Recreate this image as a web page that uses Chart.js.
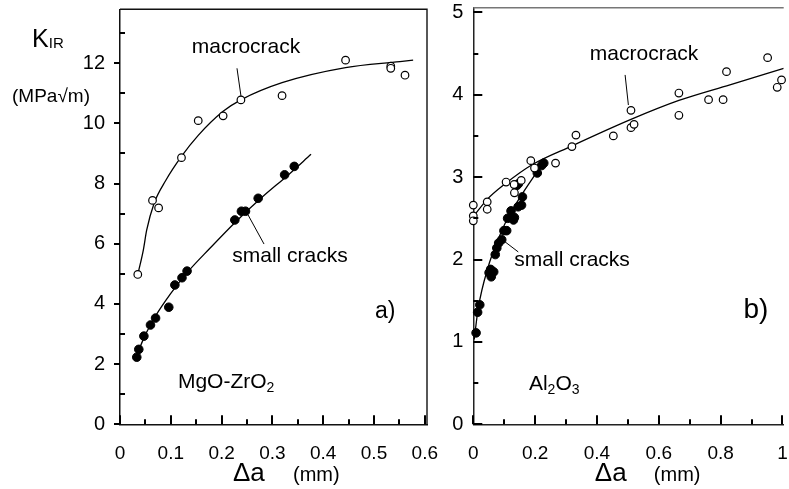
<!DOCTYPE html>
<html>
<head>
<meta charset="utf-8">
<script src="https://cdn.jsdelivr.net/npm/chart.js@4.4.1/dist/chart.umd.min.js"></script>
<style>
html,body{margin:0;padding:0;background:#fff;overflow:hidden}
body{width:789px;height:489px;position:relative}
.panel{position:absolute;top:0}
.panel canvas{display:block}
#pa{left:0}
#pb{left:400px}
</style>
</head>
<body>
<div class="panel" id="pa"><canvas id="chartA" width="440" height="489"></canvas></div>
<div class="panel" id="pb"><canvas id="chartB" width="389" height="489"></canvas></div>
<script>

const FONT="'Liberation Sans', Arial, Helvetica, sans-serif"

// a) MgO-ZrO2
const macroAX=[0.035,0.064,0.076,0.121,0.154,0.203,0.238,0.319,0.444,0.533,0.533,0.561]
const macroAY=[4.98,7.44,7.19,8.86,10.09,10.25,10.78,10.92,12.10,11.90,11.83,11.60]
const smallAX=[0.033,0.037,0.047,0.060,0.070,0.096,0.108,0.122,0.132,0.226,0.239,0.247,0.272,0.324,0.343]
const smallAY=[2.23,2.49,2.93,3.30,3.53,3.89,4.63,4.87,5.09,6.79,7.08,7.08,7.51,8.29,8.57]
const macroFitAX=[0.036,0.046,0.0525,0.067,0.09,0.121,0.154,0.203,0.238,0.319,0.444,0.551,0.577]
const macroFitAY=[5.05,5.8,6.45,7.34,8.1,8.9,9.6,10.4,10.78,11.35,11.85,12.05,12.1]
const smallFitAX=[0.033,0.05,0.07,0.1,0.13,0.177,0.226,0.28,0.33,0.376]
const smallFitAY=[2.3,2.98,3.6,4.35,5.0,5.85,6.7,7.55,8.27,8.97]

// b) Al2O3
const macroBX=[0,0,0,0.045,0.045,0.106,0.132,0.133,0.155,0.186,0.198,0.266,0.319,0.332,0.453,0.510,0.510,0.520,0.665,0.665,0.761,0.808,0.819,0.952,0.983,0.997]
const macroBY=[2.66,2.53,2.47,2.70,2.61,2.94,2.91,2.81,2.96,3.20,3.11,3.17,3.37,3.51,3.50,3.81,3.60,3.64,4.02,3.75,3.94,3.94,4.28,4.45,4.09,4.18]
const smallBX=[0.009,0.014,0.021,0.051,0.056,0.058,0.066,0.071,0.076,0.082,0.092,0.099,0.108,0.111,0.122,0.130,0.133,0.141,0.146,0.145,0.156,0.159,0.207,0.221,0.228]
const smallBY=[1.11,1.36,1.45,1.84,1.88,1.79,1.85,2.06,2.14,2.20,2.24,2.35,2.35,2.50,2.59,2.48,2.51,2.90,2.92,2.64,2.66,2.76,3.05,3.14,3.17]
const macroFitBX=[0,0.045,0.1,0.19,0.32,0.51,0.665,0.83,1.004]
const macroFitBY=[2.52,2.73,2.91,3.15,3.38,3.70,3.93,4.12,4.32]
const smallFitBX=[0.003,0.016,0.048,0.08,0.111,0.159,0.207,0.228]
const smallFitBY=[1.03,1.41,1.91,2.24,2.5,2.8,3.07,3.19]

function pts(xs,ys){
    return xs.map((x,i)=>({x:x,y:ys[i]}))
}

function isMult(v,step){
    const r=v/step
    return Math.abs(r-Math.round(r))<1e-6
}

// inward tick marks, minor ticks and frame
const tickMarks={
    id:"tickMarks",
    afterDraw(chart){
        const o=chart.config._config.frameOpts
        const ctx=chart.ctx
        const a=chart.chartArea
        const sx=chart.scales.x
        const sy=chart.scales.y
        ctx.save()
        ctx.strokeStyle="#000"
        ctx.lineWidth=2
        ctx.beginPath()
        for(let i=0;i*o.xStep<=o.xMax+1e-9;i++){
            const px=Math.round(sx.getPixelForValue(i*o.xStep))
            const len=i%2===0?9:5
            ctx.moveTo(px,a.bottom)
            ctx.lineTo(px,a.bottom-len)
        }
        for(let i=0;i*o.yStep<=o.yMax+1e-9;i++){
            const py=Math.round(sy.getPixelForValue(i*o.yStep))
            if(i%2===0){
                if(o.yMajorOut){
                    ctx.moveTo(a.left-6,py)
                    ctx.lineTo(a.left,py)
                }else{
                    ctx.moveTo(a.left,py)
                    ctx.lineTo(a.left+9,py)
                }
            }else{
                ctx.moveTo(a.left,py)
                ctx.lineTo(a.left+5,py)
            }
        }
        ctx.stroke()
        ctx.strokeStyle=o.frameColor
        ctx.lineWidth=1.4
        ctx.beginPath()
        ctx.moveTo(a.left,a.top)
        ctx.lineTo(a.right,a.top)
        if(o.rightBorder){
            ctx.lineTo(a.right,a.bottom)
        }
        ctx.stroke()
        ctx.restore()
    }
}

// labels and leader lines, placed in data units
const notes={
    id:"notes",
    afterDraw(chart){
        const items=chart.config._config.noteItems
        const ctx=chart.ctx
        const sx=chart.scales.x
        const sy=chart.scales.y
        ctx.save()
        ctx.fillStyle="#000"
        ctx.strokeStyle="#000"
        ctx.lineWidth=1
        ctx.textBaseline="alphabetic"
        items.forEach(it=>{
            if(it.line){
                ctx.beginPath()
                ctx.moveTo(sx.getPixelForValue(it.line[0]),sy.getPixelForValue(it.line[1]))
                ctx.lineTo(sx.getPixelForValue(it.line[2]),sy.getPixelForValue(it.line[3]))
                ctx.stroke()
                return
            }
            let px=sx.getPixelForValue(it.x)
            const py=sy.getPixelForValue(it.y)
            let total=0
            it.parts.forEach(p=>{
                ctx.font=p[1]+"px "+FONT
                total+=ctx.measureText(p[0]).width
            })
            if(it.center){
                px-=total/2
            }
            ctx.textAlign="left"
            it.parts.forEach(p=>{
                ctx.font=p[1]+"px "+FONT
                ctx.fillText(p[0],px,py+(p[2]||0))
                px+=ctx.measureText(p[0]).width
            })
        })
        ctx.restore()
    }
}

function makePanel(id,cfg){

    const ctx=document.getElementById(id)

    new Chart(ctx,{
        type:"scatter",
        frameOpts:cfg,
        noteItems:cfg.notes,
        data:{
            datasets:[
                {
                    data:pts(cfg.macroX,cfg.macroY),
                    pointStyle:"circle",
                    pointRadius:3.8,
                    borderWidth:1.2,
                    borderColor:"#000",
                    backgroundColor:"#fff",
                    clip:false,
                    order:0
                },
                {
                    data:pts(cfg.smallX,cfg.smallY),
                    pointStyle:"circle",
                    pointRadius:4.3,
                    borderWidth:1,
                    borderColor:"#000",
                    backgroundColor:"#000",
                    clip:false,
                    order:0
                },
                {
                    data:pts(cfg.macroFitX,cfg.macroFitY),
                    showLine:true,
                    pointRadius:0,
                    borderColor:"#000",
                    borderWidth:1.3,
                    cubicInterpolationMode:"monotone",
                    order:1
                },
                {
                    data:pts(cfg.smallFitX,cfg.smallFitY),
                    showLine:true,
                    pointRadius:0,
                    borderColor:"#000",
                    borderWidth:1.3,
                    cubicInterpolationMode:"monotone",
                    order:1
                }
            ]
        },
        options:{
            responsive:false,
            animation:false,
            events:[],
            layout:{
                padding:{top:cfg.padTop,right:cfg.padRight,left:0,bottom:0}
            },
            plugins:{
                legend:{display:false},
                tooltip:{enabled:false}
            },
            scales:{
                x:{
                    type:"linear",
                    min:0,
                    max:cfg.xMax,
                    grid:{display:false},
                    border:{display:true,color:cfg.axisColor,width:1.5},
                    ticks:{
                        stepSize:cfg.xStep,
                        includeBounds:false,
                        autoSkip:false,
                        maxRotation:0,
                        padding:10,
                        color:"#000",
                        font:{family:FONT,size:19},
                        callback:v=>isMult(v,cfg.xStep*2)?String(Math.round(v*10)/10):""
                    },
                    afterFit(s){
                        s.height=cfg.xHeight
                        s.paddingLeft=0
                        s.paddingRight=0
                    }
                },
                y:{
                    type:"linear",
                    min:0,
                    max:cfg.yMax,
                    grid:{display:false},
                    border:{display:true,color:cfg.axisColor,width:1.5},
                    ticks:{
                        stepSize:cfg.yStep,
                        includeBounds:false,
                        autoSkip:false,
                        padding:cfg.yPad,
                        color:"#000",
                        font:{family:FONT,size:20},
                        callback:v=>isMult(v,cfg.yStep*2)?String(Math.round(v)):""
                    },
                    afterFit(s){
                        s.width=cfg.yWidth
                        s.paddingTop=0
                        s.paddingBottom=0
                    }
                }
            }
        },
        plugins:[tickMarks,notes]
    })

}

makePanel("chartA",{
    macroX:macroAX,macroY:macroAY,
    smallX:smallAX,smallY:smallAY,
    macroFitX:macroFitAX,macroFitY:macroFitAY,
    smallFitX:smallFitAX,smallFitY:smallFitAY,
    xMax:0.6043,xStep:0.05,
    yMax:13.79,yStep:1,
    padTop:9.3,padRight:13,
    xHeight:64.7,yWidth:120,yPad:7,
    axisColor:"#111",frameColor:"#111",
    yMajorOut:true,rightBorder:true,
    notes:[
        {x:-0.173,y:12.55,parts:[["K",25],["IR",15,1]]},
        {x:-0.2126,y:10.7,parts:[["(MPa\u221Am)",19]]},
        {x:0.248,y:12.34,center:true,parts:[["macrocrack",21]]},
        {line:[0.2303,11.83,0.2382,10.9]},
        {x:0.3346,y:5.39,center:true,parts:[["small cracks",21]]},
        {line:[0.252,6.96,0.2835,5.99]},
        {x:0.502,y:3.53,parts:[["a)",23]]},
        {x:0.114,y:1.21,parts:[["MgO-ZrO",21],["2",14,4]]},
        {x:0.2224,y:-1.88,parts:[["\u0394a",26]]},
        {x:0.3406,y:-1.88,parts:[["(mm)",20]]}
    ]
})

makePanel("chartB",{
    macroX:macroBX,macroY:macroBY,
    smallX:smallBX,smallY:smallBY,
    macroFitX:macroFitBX,macroFitY:macroFitBY,
    smallFitX:smallFitBX,smallFitY:smallFitBY,
    xMax:1.004,xStep:0.1,
    yMax:5.056,yStep:0.5,
    padTop:7.7,padRight:0,
    xHeight:64.7,yWidth:73.3,yPad:2,
    axisColor:"#222",frameColor:"#777",
    yMajorOut:false,rightBorder:false,
    notes:[
        {x:0.5525,y:4.42,center:true,parts:[["macrocrack",21]]},
        {line:[0.491,4.24,0.5016,3.875]},
        {x:0.1326,y:1.92,parts:[["small cracks",21]]},
        {line:[0.0945,2.238,0.1454,2.092]},
        {x:0.874,y:1.29,parts:[["b)",28]]},
        {x:0.18,y:0.42,parts:[["Al",21],["2",14,4],["O",21],["3",14,4]]},
        {x:0.393,y:-0.687,parts:[["\u0394a",26]]},
        {x:0.584,y:-0.687,parts:[["(mm)",20]]}
    ]
})

</script>
</body>
</html>
